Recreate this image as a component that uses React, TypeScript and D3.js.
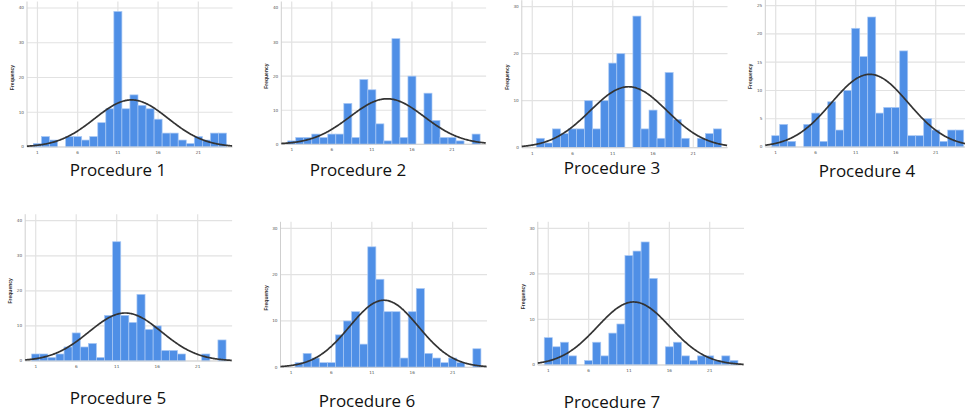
import React from "react";
import * as d3 from "d3";

// bin values 1..24
const binValues = d3.range(1, 25);

const proc1 = [1, 3, 2, 0, 3, 3, 2, 3, 7, 11, 39, 11, 15, 12, 11, 8, 4, 4, 2, 1, 3, 2, 4, 4];
const proc2 = [1, 2, 2, 3, 2, 3, 3, 12, 2, 19, 16, 6, 1, 31, 2, 20, 0, 15, 7, 2, 2, 1, 0, 3];
const proc3 = [0, 2, 1, 4, 3, 4, 4, 10, 4, 10, 18, 20, 0, 28, 4, 8, 2, 16, 6, 2, 0, 2, 3, 4];
const proc4 = [2, 4, 1, 0, 4, 6, 1, 8, 3, 10, 21, 16, 23, 6, 7, 7, 17, 2, 2, 5, 3, 1, 3, 3];
const proc5 = [2, 2, 1, 2, 4, 8, 4, 5, 1, 13, 34, 13, 11, 19, 9, 10, 3, 3, 2, 0, 0, 2, 0, 6];
const proc6 = [0, 1, 3, 2, 1, 1, 7, 10, 12, 5, 26, 19, 12, 12, 2, 12, 17, 3, 2, 1, 2, 1, 0, 4];
const proc7 = [6, 4, 5, 2, 0, 1, 5, 2, 7, 9, 24, 25, 27, 19, 0, 4, 5, 2, 1, 2, 2, 1, 2, 1];

const series = [proc1, proc2, proc3, proc4, proc5, proc6, proc7];
const titles = ["Procedure 1", "Procedure 2", "Procedure 3", "Procedure 4", "Procedure 5", "Procedure 6", "Procedure 7"];
const yMaxes = [40, 40, 30, 25, 40, 30, 30];
const ySteps = [10, 10, 10, 5, 10, 10, 10];
const xTicks = [1, 6, 11, 16, 21];

// where each small chart sits on the page
const layout = [
  { left: 27, right: 232.5, top: 8, bottom: 147, tx: 118, ty: 176 },
  { left: 281.3, right: 486.1, top: 8, bottom: 144.3, tx: 358, ty: 176 },
  { left: 521.8, right: 727.5, top: 6.7, bottom: 147.7, tx: 612, ty: 174 },
  { left: 765.3, right: 969.7, top: 5.7, bottom: 147, tx: 867, ty: 177 },
  { left: 25.2, right: 232.1, top: 220.7, bottom: 361, tx: 118, ty: 404 },
  { left: 280.5, right: 487, top: 228.3, bottom: 367.3, tx: 367, ty: 407 },
  { left: 537.8, right: 744, top: 228.3, bottom: 365, tx: 612, ty: 408 },
];

const xDomain: [number, number] = [-0.3, 25.25];

const Panel = ({ counts, title, yMax, yStep, box }) => {
  const x = d3.scaleLinear().domain(xDomain).range([box.left, box.right]);
  const y = d3.scaleLinear().domain([0, yMax]).range([box.bottom, box.top]);
  const plotTop = box.top - 6.5;

  // normal fit from the binned data
  const n = d3.sum(counts);
  const mean = d3.sum(counts, (c, i) => c * binValues[i]) / n;
  const sd = Math.sqrt(d3.sum(counts, (c, i) => c * (binValues[i] - mean) ** 2) / (n - 1));
  const pdf = (v) => (n / (sd * Math.sqrt(2 * Math.PI))) * Math.exp(-((v - mean) ** 2) / (2 * sd * sd));
  const curvePts = d3.range(xDomain[0], xDomain[1] + 0.001, 0.1).map((v) => [v, pdf(v)]);
  const line = d3
    .line()
    .x((d) => x(d[0]))
    .y((d) => y(d[1]))
    .curve(d3.curveBasis);

  const yTicks = d3.range(0, yMax + 0.001, yStep);

  return (
    <g>
      {/* grid */}
      {yTicks.map((t) => (
        <line key={"h" + t} x1={box.left} x2={box.right} y1={y(t)} y2={y(t)} stroke="#e2e2e2" strokeWidth={1.2} />
      ))}
      {xTicks.map((t) => (
        <line key={"v" + t} x1={x(t)} x2={x(t)} y1={plotTop} y2={box.bottom} stroke="#e2e2e2" strokeWidth={1.2} />
      ))}
      <line x1={box.left} x2={box.left} y1={plotTop} y2={box.bottom} stroke="#cfcfcf" strokeWidth={1} />

      {/* bars */}
      {counts.map((c, i) =>
        c > 0 ? (
          <rect
            key={i}
            x={x(binValues[i] - 0.5)}
            y={y(c)}
            width={x(binValues[i] + 0.5) - x(binValues[i] - 0.5)}
            height={box.bottom - y(c)}
            fill="#4f8fe6"
            stroke="#a9c8f4"
            strokeWidth={0.7}
          />
        ) : null
      )}

      <line x1={box.left} x2={box.right} y1={box.bottom} y2={box.bottom} stroke="#d5d5d5" strokeWidth={1} />

      {/* fit curve */}
      <path d={line(curvePts)} fill="none" stroke="#333" strokeWidth={1.7} />

      {/* axes text */}
      {yTicks.map((t) => (
        <text key={"yl" + t} x={box.left - 3} y={y(t)} dy="0.35em" textAnchor="end" fontSize={4.2} fill="#555" fontFamily="DejaVu Sans">
          {t}
        </text>
      ))}
      {xTicks.map((t) => (
        <text key={"xl" + t} x={x(t)} y={box.bottom + 7} textAnchor="middle" fontSize={4.2} fill="#555" fontFamily="DejaVu Sans">
          {t}
        </text>
      ))}
      <text
        transform={`translate(${box.left - 13},${(box.top + box.bottom) / 2}) rotate(-90)`}
        textAnchor="middle"
        fontSize={5}
        fontWeight="bold"
        fill="#333"
        fontFamily="Liberation Sans"
      >
        Frequency
      </text>

      <text x={box.tx} y={box.ty} textAnchor="middle" fontSize={17} fill="#111" fontFamily="Open Sans">
        {title}
      </text>
    </g>
  );
};

export default function App() {
  return (
    <svg width={965} height={418} style={{ position: "absolute", left: 0, top: 0, background: "#fff" }}>
      {series.map((counts, i) => (
        <Panel key={i} counts={counts} title={titles[i]} yMax={yMaxes[i]} yStep={ySteps[i]} box={layout[i]} />
      ))}
    </svg>
  );
}
